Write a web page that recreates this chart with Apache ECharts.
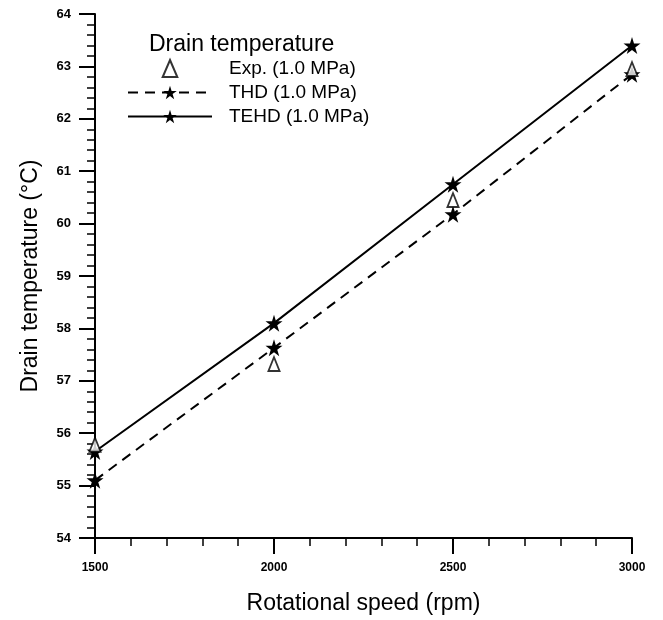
<!DOCTYPE html>
<html>
<head>
<meta charset="utf-8">
<script src="https://cdn.jsdelivr.net/npm/echarts@6/dist/echarts.min.js"></script>
<style>
html,body{margin:0;padding:0;background:#fff;}
#c{width:663px;height:620px;}
</style>
</head>
<body>
<div id="c"></div>
<script>
// ---- data ----
var speeds = [1500, 2000, 2500, 3000];
var expTemp = [55.78, 57.32, 60.45, 62.95];
var thdTemp = [55.10, 57.63, 60.18, 62.85];
var tehdTemp = [55.65, 58.10, 60.75, 63.40];
var xTicks = [1500, 2000, 2500, 3000];
var yTicks = [54, 55, 56, 57, 58, 59, 60, 61, 62, 63, 64];

var STAR = 'path://M50,0 L61.2,34.5 L97.6,34.5 L68.2,55.9 L79.4,90.5 L50,69.1 L20.6,90.5 L31.8,55.9 L2.4,34.5 L38.8,34.5 Z';
var TRI = 'path://M50,0 L93,100 L7,100 Z';
var FONT = 'Liberation Sans, Arial, sans-serif';

function pairs(xs, ys){ return xs.map(function(x,i){ return [x, ys[i]]; }); }

var chart = echarts.init(document.getElementById('c'), null, {renderer:'canvas'});
chart.setOption({
  animation:false,
  backgroundColor:'#fff',
  title:{
    text:'Drain temperature', left:144, top:28,
    textStyle:{fontFamily:FONT, fontSize:23, fontWeight:'normal', color:'#000'}
  },
  legend:{
    orient:'vertical', left:122, top:54,
    itemWidth:84, itemHeight:17, itemGap:5, symbolKeepAspect:true,
    textStyle:{fontFamily:FONT, fontSize:19, color:'#000', padding:[0,0,0,12]},
    data:['Exp. (1.0 MPa)','THD (1.0 MPa)','TEHD (1.0 MPa)']
  },
  grid:{left:95, right:31, top:14, bottom:71, containLabel:false},
  xAxis:{
    type:'value', min:xTicks[0], max:xTicks[xTicks.length-1], interval:500,
    name:'Rotational speed (rpm)', nameLocation:'middle', nameGap:54,
    nameTextStyle:{fontFamily:FONT, fontSize:23, color:'#000'},
    axisLine:{show:true, onZero:false, lineStyle:{color:'#000', width:2}},
    axisTick:{show:true, inside:false, length:16, lineStyle:{color:'#000', width:2}},
    minorTick:{show:true, splitNumber:5, length:8, lineStyle:{color:'#000', width:1.5}},
    axisLabel:{margin:24, fontFamily:FONT, fontSize:12, color:'#000', fontWeight:'bold',
      formatter:function(v){ return String(v); }},
    splitLine:{show:false}
  },
  yAxis:{
    type:'value', min:yTicks[0], max:yTicks[yTicks.length-1], interval:1,
    name:'Drain temperature (\u00B0C)', nameLocation:'middle', nameGap:53, nameRotate:90,
    nameTextStyle:{fontFamily:FONT, fontSize:23, color:'#000'},
    axisLine:{show:true, onZero:false, lineStyle:{color:'#000', width:2}},
    axisTick:{show:true, inside:false, length:16, lineStyle:{color:'#000', width:2}},
    minorTick:{show:true, splitNumber:5, length:8, lineStyle:{color:'#000', width:1.5}},
    axisLabel:{margin:24, fontFamily:FONT, fontSize:13, color:'#000', fontWeight:'bold',
      formatter:function(v){ return String(v); }},
    splitLine:{show:false}
  },
  series:[
    {
      name:'THD (1.0 MPa)', type:'line', data:pairs(speeds, thdTemp),
      symbol:STAR, symbolSize:17, showAllSymbol:true,
      lineStyle:{color:'#000', width:2, type:[10,7]},
      itemStyle:{color:'#000'}, z:3
    },
    {
      name:'TEHD (1.0 MPa)', type:'line', data:pairs(speeds, tehdTemp),
      symbol:STAR, symbolSize:17, showAllSymbol:true,
      lineStyle:{color:'#000', width:2, type:'solid'},
      itemStyle:{color:'#000'}, z:3
    },
    {
      name:'Exp. (1.0 MPa)', type:'scatter', data:pairs(speeds, expTemp),
      symbol:TRI, symbolSize:[13,14], symbolKeepAspect:true,
      itemStyle:{color:'#fff', borderColor:'#000', borderWidth:1.8}, z:4
    }
  ]
});
</script>
</body>
</html>
